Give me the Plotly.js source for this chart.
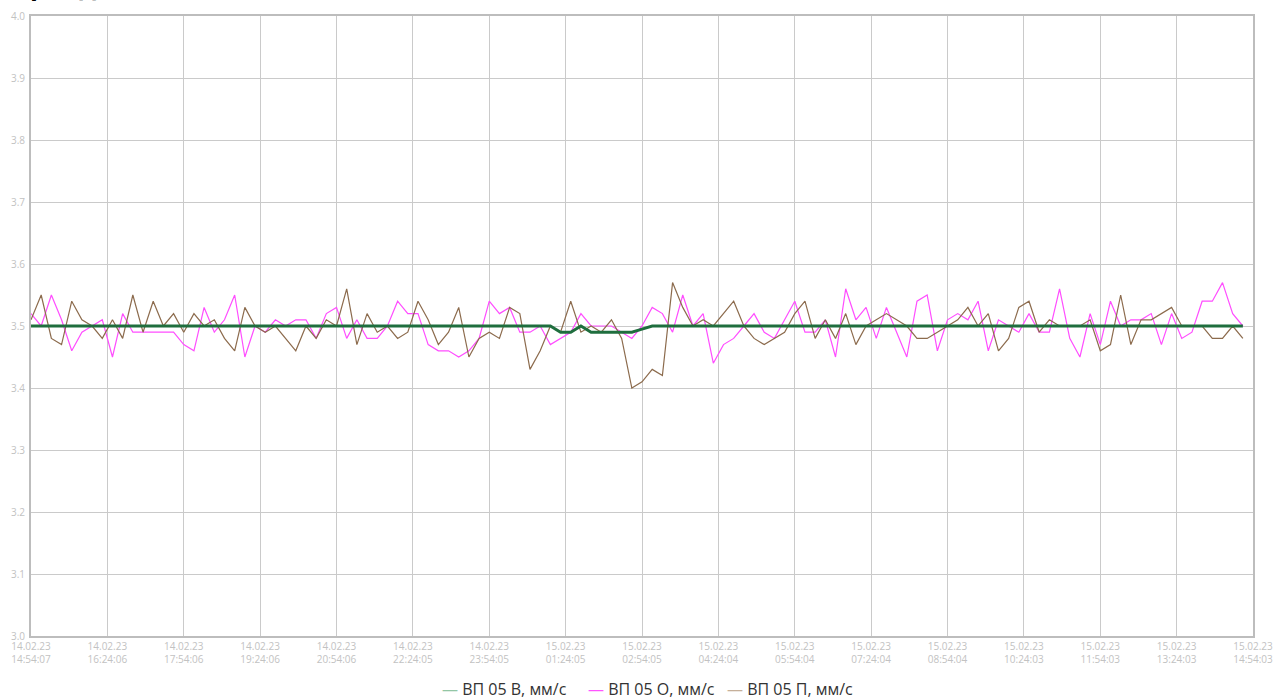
<!DOCTYPE html>
<html>
<head>
<meta charset="utf-8">
<script src="https://cdn.plot.ly/plotly-3.0.1.min.js"></script>
<style>
  html, body { margin: 0; padding: 0; background: #ffffff; }
  #chart { width: 1274px; height: 698px; }
</style>
</head>
<body>
<div id="chart"></div>
<script>
// ---- data ----
const startTime = "2023-02-14 14:54:07";   // first sample
const stepMinutes = 12;                      // sampling period

const seriesNames = ["ВП 05 В, мм/с", "ВП 05 О, мм/с", "ВП 05 П, мм/с"];

const vp05B = [
  3.50, 3.50, 3.50, 3.50, 3.50, 3.50, 3.50, 3.50, 3.50, 3.50,
  3.50, 3.50, 3.50, 3.50, 3.50, 3.50, 3.50, 3.50, 3.50, 3.50,
  3.50, 3.50, 3.50, 3.50, 3.50, 3.50, 3.50, 3.50, 3.50, 3.50,
  3.50, 3.50, 3.50, 3.50, 3.50, 3.50, 3.50, 3.50, 3.50, 3.50,
  3.50, 3.50, 3.50, 3.50, 3.50, 3.50, 3.50, 3.50, 3.50, 3.50,
  3.50, 3.50, 3.49, 3.49, 3.50, 3.49, 3.49, 3.49, 3.49, 3.49,
  3.495, 3.50, 3.50, 3.50, 3.50, 3.50, 3.50, 3.50, 3.50, 3.50,
  3.50, 3.50, 3.50, 3.50, 3.50, 3.50, 3.50, 3.50, 3.50, 3.50,
  3.50, 3.50, 3.50, 3.50, 3.50, 3.50, 3.50, 3.50, 3.50, 3.50,
  3.50, 3.50, 3.50, 3.50, 3.50, 3.50, 3.50, 3.50, 3.50, 3.50,
  3.50, 3.50, 3.50, 3.50, 3.50, 3.50, 3.50, 3.50, 3.50, 3.50,
  3.50, 3.50, 3.50, 3.50, 3.50, 3.50, 3.50, 3.50, 3.50, 3.50
];

const vp05O = [
  3.52, 3.50, 3.55, 3.51, 3.46, 3.49, 3.50, 3.51, 3.45, 3.52,
  3.49, 3.49, 3.49, 3.49, 3.49, 3.47, 3.46, 3.53, 3.49, 3.51,
  3.55, 3.45, 3.50, 3.49, 3.51, 3.50, 3.51, 3.51, 3.48, 3.52,
  3.53, 3.48, 3.51, 3.48, 3.48, 3.50, 3.54, 3.52, 3.52, 3.47,
  3.46, 3.46, 3.45, 3.46, 3.48, 3.54, 3.52, 3.53, 3.49, 3.49,
  3.50, 3.47, 3.48, 3.49, 3.52, 3.50, 3.50, 3.50, 3.49, 3.48,
  3.50, 3.53, 3.52, 3.49, 3.55, 3.50, 3.52, 3.44, 3.47, 3.48,
  3.50, 3.52, 3.49, 3.48, 3.51, 3.54, 3.49, 3.49, 3.51, 3.45,
  3.56, 3.51, 3.53, 3.48, 3.53, 3.49, 3.45, 3.54, 3.55, 3.46,
  3.51, 3.52, 3.51, 3.54, 3.46, 3.51, 3.50, 3.49, 3.52, 3.49,
  3.49, 3.56, 3.48, 3.45, 3.52, 3.47, 3.54, 3.50, 3.51, 3.51,
  3.52, 3.47, 3.52, 3.48, 3.49, 3.54, 3.54, 3.57, 3.52, 3.50
];

const vp05P = [
  3.51, 3.55, 3.48, 3.47, 3.54, 3.51, 3.50, 3.48, 3.51, 3.48,
  3.55, 3.49, 3.54, 3.50, 3.52, 3.49, 3.52, 3.50, 3.51, 3.48,
  3.46, 3.53, 3.50, 3.49, 3.50, 3.48, 3.46, 3.50, 3.48, 3.51,
  3.50, 3.56, 3.47, 3.52, 3.49, 3.50, 3.48, 3.49, 3.54, 3.51,
  3.47, 3.49, 3.53, 3.45, 3.48, 3.49, 3.48, 3.53, 3.52, 3.43,
  3.46, 3.50, 3.49, 3.54, 3.49, 3.50, 3.49, 3.51, 3.48, 3.40,
  3.41, 3.43, 3.42, 3.57, 3.53, 3.50, 3.51, 3.50, 3.52, 3.54,
  3.50, 3.48, 3.47, 3.48, 3.49, 3.52, 3.54, 3.48, 3.51, 3.48,
  3.52, 3.47, 3.50, 3.51, 3.52, 3.51, 3.50, 3.48, 3.48, 3.49,
  3.50, 3.51, 3.53, 3.50, 3.52, 3.46, 3.48, 3.53, 3.54, 3.49,
  3.51, 3.50, 3.50, 3.50, 3.51, 3.46, 3.47, 3.55, 3.47, 3.51,
  3.51, 3.52, 3.53, 3.50, 3.50, 3.50, 3.48, 3.48, 3.50, 3.48
];

const tickTimes = [
  "2023-02-14 14:54:07", "2023-02-14 16:24:06", "2023-02-14 17:54:06", "2023-02-14 19:24:06",
  "2023-02-14 20:54:06", "2023-02-14 22:24:05", "2023-02-14 23:54:05", "2023-02-15 01:24:05",
  "2023-02-15 02:54:05", "2023-02-15 04:24:04", "2023-02-15 05:54:04", "2023-02-15 07:24:04",
  "2023-02-15 08:54:04", "2023-02-15 10:24:03", "2023-02-15 11:54:03", "2023-02-15 13:24:03",
  "2023-02-15 14:54:03"
];
const tickDates = [
  "14.02.23", "14.02.23", "14.02.23", "14.02.23", "14.02.23", "14.02.23", "14.02.23", "15.02.23",
  "15.02.23", "15.02.23", "15.02.23", "15.02.23", "15.02.23", "15.02.23", "15.02.23", "15.02.23",
  "15.02.23"
];
const tickClock = [
  "14:54:07", "16:24:06", "17:54:06", "19:24:06", "20:54:06", "22:24:05", "23:54:05", "01:24:05",
  "02:54:05", "04:24:04", "05:54:04", "07:24:04", "08:54:04", "10:24:03", "11:54:03", "13:24:03",
  "14:54:03"
];

const lineColors = ["#1f6e3e", "#ff4dff", "#8c6b4d"];
const legendColors = ["#93c6a5", "#ff55ff", "#c6b09a"];

// ---- build ----
function pad(n) { return (n < 10 ? "0" : "") + n; }
function fmt(d) {
  return d.getFullYear() + "-" + pad(d.getMonth() + 1) + "-" + pad(d.getDate()) + " " +
         pad(d.getHours()) + ":" + pad(d.getMinutes()) + ":" + pad(d.getSeconds());
}
const t0 = new Date(startTime.replace(" ", "T"));
const times = vp05B.map((_, i) => fmt(new Date(t0.getTime() + i * stepMinutes * 60000)));

const traces = [
  { x: times, y: vp05O, name: seriesNames[1], type: "scatter", mode: "lines",
    line: { color: lineColors[1], width: 1.2 }, showlegend: false, hoverinfo: "x+y+name" },
  { x: times, y: vp05P, name: seriesNames[2], type: "scatter", mode: "lines",
    line: { color: lineColors[2], width: 1.2 }, showlegend: false, hoverinfo: "x+y+name" },
  { x: times, y: vp05B, name: seriesNames[0], type: "scatter", mode: "lines",
    line: { color: lineColors[0], width: 3 }, showlegend: false, hoverinfo: "x+y+name" }
];

const W = 1274, H = 698;
const mL = 31, mR = 21, mT = 16, mB = 62;
const pw = W - mL - mR, ph = H - mT - mB;
function px2paperX(px) { return (px - mL) / pw; }
function px2paperY(py) { return (H - mB - py) / ph; }

const legendStarts = [440, 586, 725];
const annotations = seriesNames.map((n, k) => ({
  xref: "paper", yref: "paper",
  x: px2paperX(legendStarts[k]), y: px2paperY(689),
  xanchor: "left", yanchor: "middle", showarrow: false,
  text: '<span style="color:' + legendColors[k] + '">—</span> ' + n,
  font: { family: "Open Sans, sans-serif", size: 16, color: "#333333" }
}));
annotations.push({
  xref: "paper", yref: "paper",
  x: px2paperX(13), y: px2paperY(5),
  xanchor: "left", yanchor: "bottom", showarrow: false,
  text: "<b>Тренд</b>",
  font: { family: "Open Sans, sans-serif", size: 26, color: "#000000" }
});

const layout = {
  width: W, height: H,
  margin: { l: mL, r: mR, t: mT, b: mB, pad: 0 },
  paper_bgcolor: "#ffffff", plot_bgcolor: "#ffffff",
  showlegend: false,
  font: { family: "Open Sans, sans-serif" },
  xaxis: {
    type: "date",
    range: [tickTimes[0], tickTimes[tickTimes.length - 1]],
    tickmode: "array",
    tickvals: tickTimes,
    ticktext: tickDates.map((d, i) => d + "<br>" + tickClock[i]),
    tickfont: { family: "Open Sans, sans-serif", size: 10, color: "#c2c2c2" },
    showgrid: true, gridcolor: "#cacaca", gridwidth: 1,
    showline: true, mirror: true, linecolor: "#bdbdbd", linewidth: 2,
    ticks: "", zeroline: false, fixedrange: true
  },
  yaxis: {
    range: [3.0, 4.0],
    dtick: 0.1, tick0: 3.0,
    tickformat: ".1f",
    tickfont: { family: "Open Sans, sans-serif", size: 10, color: "#c2c2c2" },
    showgrid: true, gridcolor: "#cacaca", gridwidth: 1,
    showline: true, mirror: true, linecolor: "#bdbdbd", linewidth: 2,
    ticks: "", ticklabelstandoff: 2, zeroline: false, fixedrange: true
  },
  annotations: annotations
};

Plotly.newPlot("chart", traces, layout, { displayModeBar: false, staticPlot: false });
</script>
</body>
</html>
